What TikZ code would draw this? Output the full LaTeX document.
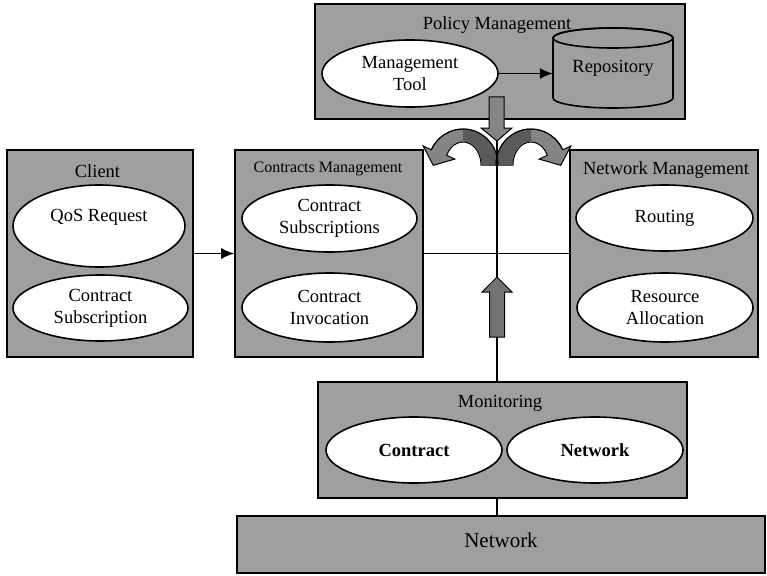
\documentclass[tikz,border=0pt]{standalone}
\usepackage{fontspec}
\setmainfont{Liberation Serif}
\usetikzlibrary{shapes.geometric,arrows.meta,calc}
\definecolor{panel}{HTML}{9F9F9F}
\definecolor{arrowfill}{HTML}{858585}
\definecolor{arrowdark}{HTML}{5A5A5A}
\begin{document}
\begin{tikzpicture}[x=1pt,y=-1pt,
  panel/.style={draw=black, line width=1.6pt, fill=panel, rectangle, inner sep=0pt},
  oval/.style={draw=black, line width=1.6pt, fill=white, ellipse, inner sep=0pt,
    align=center, font=\fontsize{18.5}{22}\selectfont},
  title/.style={font=\fontsize{18.5}{22}\selectfont, inner sep=0pt},
  link/.style={line width=1.4pt},
  tip/.style={-{Latex[length=13pt,width=11pt]}},
  fat/.style={draw=black, line width=1pt, fill=arrowfill}]
\fill[white] (0,0) rectangle (767,575);
\useasboundingbox (0,0) rectangle (767,575);

% ---------- Policy management ----------
\node[panel, minimum width=370, minimum height=115] (policy) at (500,61.5) {};
\node[title] (policyT) at (497,25) {Policy Management};
\node[oval, minimum width=176, minimum height=67] (tool) at (410,73.5) {Management\\Tool};
% repository drum
\draw[line width=1.6pt, fill=panel] (553,38) -- (553,98)
  arc[start angle=180, end angle=0, x radius=60, y radius=10] -- (673,38)
  arc[start angle=0, end angle=-180, x radius=60, y radius=10] -- cycle;
\draw[line width=1.6pt] (613,38) ellipse[x radius=60, y radius=10];
\node[title, minimum width=120, minimum height=80] (repo) at (613,68) {Repository};
\draw[link, tip] (tool.east) -- (tool.east -| repo.west);

% ---------- Client ----------
\node[panel, minimum width=186, minimum height=207] (client) at (100,253.5) {};
\node[title] (clientT) at (97.5,171) {Client};
\node[oval, minimum width=172, minimum height=82] (qos) at (99,226) {QoS Request\\\phantom{X}};
\node[oval, minimum width=175, minimum height=66] (csub) at (100.5,308) {Contract\\Subscription};

% ---------- Contracts management ----------
\node[panel, minimum width=188, minimum height=207] (cm) at (329,253.5) {};
\node[title, font=\fontsize{16}{19}\selectfont] (cmT) at (328,169) {Contracts Management};
\node[oval, minimum width=175, minimum height=67] (csubs) at (329.5,218.5) {Contract\\Subscriptions};
\node[oval, minimum width=175, minimum height=69] (cinv) at (329.5,307.5) {Contract\\Invocation};

% ---------- Network management ----------
\node[panel, minimum width=188, minimum height=207] (nm) at (664,253.5) {};
\node[title] (nmT) at (666,170) {Network Management};
\node[oval, minimum width=177, minimum height=66] (routing) at (664.5,218) {Routing};
\node[oval, minimum width=176, minimum height=69] (res) at (665,307.5) {Resource\\Allocation};

% ---------- Monitoring and network ----------
\node[panel, minimum width=369, minimum height=116] (mon) at (502.5,440) {};
\node[title] (monT) at (500,403) {Monitoring};
\node[oval, minimum width=176, minimum height=66, font=\fontsize{18.5}{22}\selectfont\bfseries] (mcon) at (414,450) {Contract};
\node[oval, minimum width=176, minimum height=66, font=\fontsize{18.5}{22}\selectfont\bfseries] (mnet) at (595,450) {Network};
\node[panel, minimum width=528, minimum height=57] (netbar) at (501,544.5) {};
\node[title, font=\fontsize{21}{24}\selectfont] (netT) at (501,540) {Network};

% ---------- connectors ----------
\draw[link, tip] (client.east) -- (cm.west);
\draw[link] (cm.east) -- (nm.west);

% curved block arrows fanning out from the policy flow
\coordinate (cl) at (463,165);
\coordinate (cr) at (531,165);
\path[fat] ($(cl)+(0:35 and 36)$) arc[start angle=0, end angle=-155, x radius=35, y radius=36]
  -- ($(cl)+(-155:44 and 45)$) -- ($(cl)+(-155:26.5 and 29.5)+(-5.7,12.8)$)
  -- ($(cl)+(-155:9 and 14)$) -- ($(cl)+(-155:18 and 23)$)
  arc[start angle=-155, end angle=0, x radius=18, y radius=23] -- cycle;
\fill[arrowdark] ($(cl)+(0:34.5 and 35.5)$) arc[start angle=0, end angle=-90, x radius=34.5, y radius=35.5]
  -- ($(cl)+(-90:18.5 and 23.5)$)
  arc[start angle=-90, end angle=0, x radius=18.5, y radius=23.5] -- cycle;
\path[fat] ($(cr)+(180:35 and 36)$) arc[start angle=180, end angle=335, x radius=35, y radius=36]
  -- ($(cr)+(335:44 and 45)$) -- ($(cr)+(335:26.5 and 29.5)+(5.7,12.8)$)
  -- ($(cr)+(335:9 and 14)$) -- ($(cr)+(335:18 and 23)$)
  arc[start angle=335, end angle=180, x radius=18, y radius=23] -- cycle;
\fill[arrowdark] ($(cr)+(180:34.5 and 35.5)$) arc[start angle=180, end angle=270, x radius=34.5, y radius=35.5]
  -- ($(cr)+(270:18.5 and 23.5)$)
  arc[start angle=270, end angle=180, x radius=18.5, y radius=23.5] -- cycle;
\draw[line width=1pt] ($(cl)+(0:35 and 36)$) arc[start angle=0, end angle=-155, x radius=35, y radius=36];
\draw[line width=1pt] ($(cr)+(180:35 and 36)$) arc[start angle=180, end angle=335, x radius=35, y radius=36];

% central vertical bus
\coordinate (vtop) at (497,141);
\draw[link] (vtop) -- (vtop |- mon.north);
\draw[link] (mon.south -| vtop) -- (netbar.north -| vtop);

% block arrows: policy down, monitoring up
\path[fat] (489,97) -- (489,128) -- (481,128) -- (497,141) -- (512,128)
  -- (504,128) -- (504,97) -- cycle;
\path[fat, fill=arrowdark!85!white] (489.5,337) -- (489.5,292) -- (482,292) -- (497,277)
  -- (512,292) -- (504.5,292) -- (504.5,337) -- cycle;
\end{tikzpicture}
\end{document}
